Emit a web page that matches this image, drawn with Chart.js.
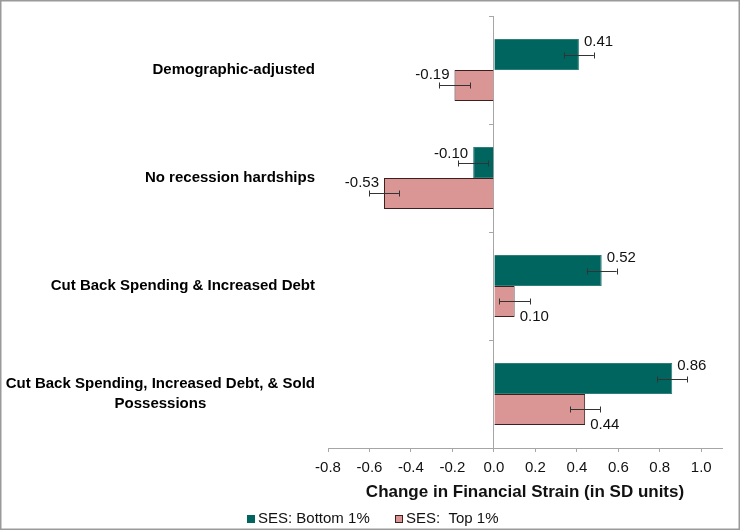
<!DOCTYPE html>
<html><head><meta charset="utf-8">
<script src="https://cdn.jsdelivr.net/npm/chart.js@4.4.1/dist/chart.umd.min.js"></script>
<style>html,body{margin:0;padding:0;background:#fff}canvas{display:block}</style>
</head><body>
<canvas id="c" width="740" height="530"></canvas>
<script>
const categories = [
  ['Demographic-adjusted'],
  ['No recession hardships'],
  ['Cut Back Spending & Increased Debt'],
  ['Cut Back Spending, Increased Debt, & Sold', 'Possessions']
];
const seriesNames = ['SES: Bottom 1%', 'SES:  Top 1%'];
const bottomValues = [0.41, -0.10, 0.52, 0.86];
const topValues = [-0.19, -0.53, 0.10, 0.44];
const bottomErrors = [0.072, 0.072, 0.072, 0.072];
const topErrors = [0.075, 0.072, 0.075, 0.072];
const xTickValues = [-0.8, -0.6, -0.4, -0.2, 0.0, 0.2, 0.4, 0.6, 0.8, 1.0];
const xAxisTitle = 'Change in Financial Strain (in SD units)';

const FONT = "'Liberation Sans', Arial, sans-serif";
const TEAL = '#00645f';
const PINK = '#d99694';
const PINK_BORDER = '#3d1f1f';
const AXIS = '#a6a6a6';
const errorSets = [bottomErrors, topErrors];

const errorBarPlugin = {
  id: 'errorBars',
  afterDatasetsDraw(chart) {
    const ctx = chart.ctx, xs = chart.scales.x;
    ctx.save();
    ctx.strokeStyle = '#333';
    ctx.lineWidth = 1;
    chart.data.datasets.forEach((ds, i) => {
      const meta = chart.getDatasetMeta(i);
      meta.data.forEach((el, j) => {
        const v = ds.data[j], e = errorSets[i][j];
        const x1 = xs.getPixelForValue(v - e), x2 = xs.getPixelForValue(v + e);
        const y = Math.round(el.y) + 0.5;
        ctx.beginPath();
        ctx.moveTo(x1, y); ctx.lineTo(x2, y);
        ctx.moveTo(Math.round(x1) + 0.5, y - 3); ctx.lineTo(Math.round(x1) + 0.5, y + 3);
        ctx.moveTo(Math.round(x2) + 0.5, y - 3); ctx.lineTo(Math.round(x2) + 0.5, y + 3);
        ctx.stroke();
      });
    });
    ctx.restore();
  }
};

const valueLabelPlugin = {
  id: 'valueLabels',
  afterDatasetsDraw(chart) {
    const ctx = chart.ctx;
    ctx.save();
    ctx.font = '15px ' + FONT;
    ctx.fillStyle = '#111';
    ctx.textBaseline = 'middle';
    chart.data.datasets.forEach((ds, i) => {
      const meta = chart.getDatasetMeta(i);
      meta.data.forEach((el, j) => {
        const v = ds.data[j];
        const pos = v >= 0;
        let dy;
        if (i === 0) dy = pos ? -13 : -9;
        else dy = pos ? 15 : -11;
        ctx.textAlign = pos ? 'left' : 'right';
        const x = pos ? el.x + 5 : el.x - 5;
        ctx.fillText(v.toFixed(2), x, el.y + dy);
      });
    });
    ctx.restore();
  }
};

const categoryLabelPlugin = {
  id: 'categoryLabels',
  afterDraw(chart) {
    const ctx = chart.ctx, ys = chart.scales.y;
    ctx.save();
    ctx.font = 'bold 15px ' + FONT;
    ctx.fillStyle = '#000';
    ctx.textBaseline = 'middle';
    ctx.textAlign = 'center';
    const right = 315, lh = 20;
    categories.forEach((lines, i) => {
      const yc = ys.getPixelForValue(i);
      const w = Math.max(...lines.map(l => ctx.measureText(l).width));
      const cx = right - w / 2;
      const y0 = yc - (lines.length - 1) * lh / 2;
      lines.forEach((l, k) => ctx.fillText(l, cx, y0 + k * lh));
    });
    ctx.restore();
  }
};

const legendPlugin = {
  id: 'customLegend',
  afterDraw(chart) {
    const ctx = chart.ctx;
    ctx.save();
    ctx.font = '15px ' + FONT;
    ctx.textBaseline = 'middle';
    ctx.textAlign = 'left';
    const box = 8, gapBox = 3, gapItem = 25, y = 518.5;
    const w0 = ctx.measureText(seriesNames[0]).width;
    const w1 = ctx.measureText(seriesNames[1]).width;
    const total = box + gapBox + w0 + gapItem + box + gapBox + w1;
    let x = Math.round(373 - total / 2);
    ctx.fillStyle = TEAL;
    ctx.fillRect(x, Math.round(y - 4), box, box);
    ctx.fillStyle = '#111';
    ctx.fillText(seriesNames[0], x + box + gapBox, y);
    x += box + gapBox + w0 + gapItem;
    x = Math.round(x);
    ctx.fillStyle = PINK;
    ctx.fillRect(x, Math.round(y - 4), box, box);
    ctx.strokeStyle = PINK_BORDER;
    ctx.lineWidth = 1;
    ctx.strokeRect(x + 0.5, Math.round(y - 4) + 0.5, box - 1, box - 1);
    ctx.fillStyle = '#111';
    ctx.fillText(seriesNames[1], x + box + gapBox, y);
    // outer frame
    ctx.strokeStyle = '#9a9a9a';
    ctx.lineWidth = 1.5;
    ctx.strokeRect(0.75, 0.75, 738.5, 528.5);
    ctx.restore();
  }
};

Chart.defaults.font.family = FONT;
Chart.defaults.color = '#111';

new Chart(document.getElementById('c'), {
  type: 'bar',
  data: {
    labels: categories.map(c => c.join(' ')),
    datasets: [
      { label: seriesNames[0], data: bottomValues, backgroundColor: TEAL, borderColor: '#2e7f7a', borderWidth: 1,
        categoryPercentage: 0.574, barPercentage: 1.0 },
      { label: seriesNames[1], data: topValues, backgroundColor: PINK, borderColor: PINK_BORDER, borderWidth: 1,
        categoryPercentage: 0.574, barPercentage: 1.0 }
    ]
  },
  options: {
    indexAxis: 'y',
    responsive: false,
    animation: false,
    devicePixelRatio: 1,
    layout: { padding: { left: 328, right: 18, top: 16, bottom: 25 } },
    plugins: { legend: { display: false }, tooltip: { enabled: false } },
    scales: {
      x: {
        type: 'linear', min: -0.8, max: 1.1,
        afterBuildTicks: (scale) => { scale.ticks = xTickValues.map(v => ({ value: v })); },
        ticks: { font: { size: 15 }, color: '#111', padding: 7, callback: (v) => Number(v).toFixed(1), maxRotation: 0, autoSkip: false },
        grid: { drawOnChartArea: false, drawTicks: true, tickLength: 4, color: AXIS },
        border: { display: true, color: AXIS, width: 1 },
        title: { display: true, text: xAxisTitle, font: { size: 17, weight: 'bold', lineHeight: 1.0 }, color: '#111', padding: { top: 0, bottom: 4 } }
      },
      y: {
        type: 'category',
        position: { x: 0 },
        ticks: { display: false },
        grid: { drawOnChartArea: false, drawTicks: true, tickLength: 4, color: AXIS, offset: true },
        border: { display: true, color: AXIS, width: 1 }
      }
    }
  },
  plugins: [errorBarPlugin, valueLabelPlugin, categoryLabelPlugin, legendPlugin]
});
</script>
</body></html>
